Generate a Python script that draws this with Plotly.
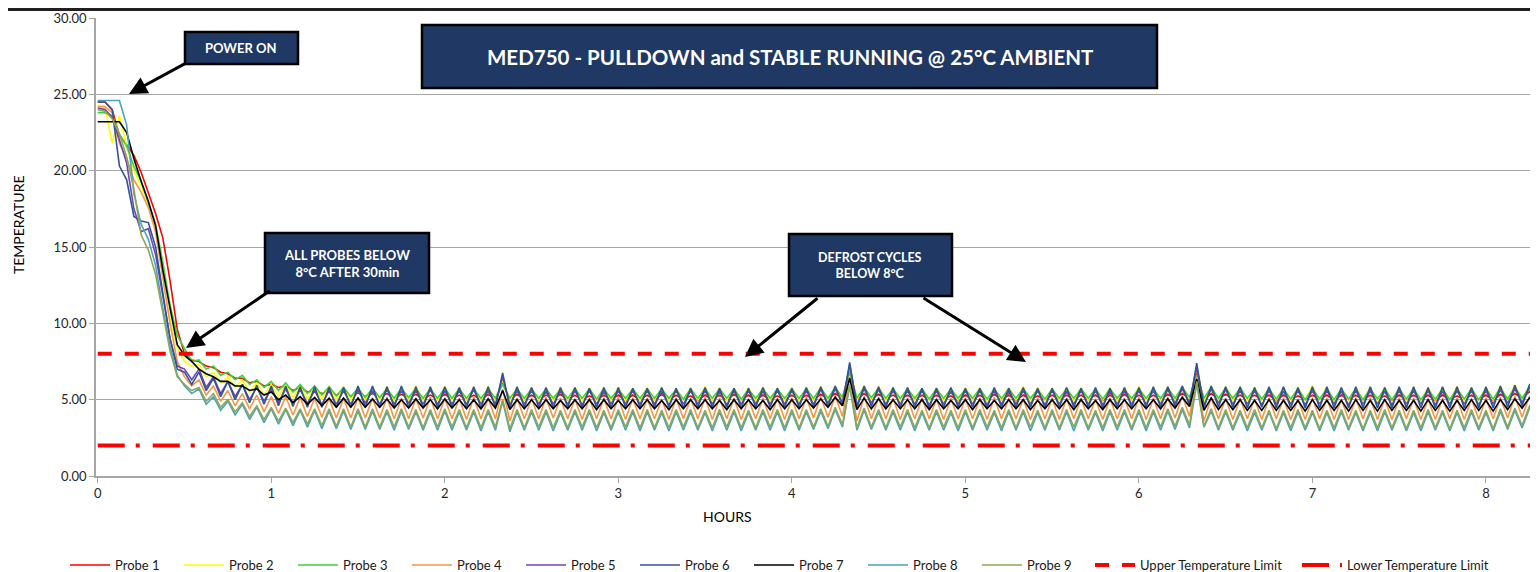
import plotly.graph_objects as go

# ---------------- data ----------------
SAMPLE_MINUTES = 2.5          # logging interval of the probes

PROBE_1 = [
    24.5, 24.5, 24.0, 22.3, 21.7, 21.0, 19.9, 18.5, 17.2, 15.6, 12.8, 9.6, 8.0,
    7.6, 7.5, 7.2, 7.1, 6.8, 6.7, 6.4, 6.4, 6.1, 6.2, 5.9, 6.0, 5.8, 5.9, 5.6, 5.8, 5.5, 5.6, 5.4, 5.5, 5.3, 5.5, 5.2,
    5.45, 5.2, 5.4, 5.15, 5.4, 5.1, 5.35, 5.1, 5.35, 5.05, 5.3, 5.05, 5.35, 5.05, 5.3, 5.0, 5.3, 5.0, 5.35, 5.05,
    6.1, 5.0, 5.35, 5.0, 5.3, 5.0, 5.3, 5.05, 5.35, 5.0, 5.3, 5.0, 5.25, 5.0, 5.3, 5.0, 5.3, 4.95, 5.3, 5.0,
    5.3, 5.0, 5.35, 5.0, 5.3, 5.0, 5.25, 4.95, 5.3, 5.0, 5.3, 5.0, 5.35, 5.0, 5.3, 4.95, 5.3, 5.0, 5.25, 5.0,
    5.3, 5.0, 5.3, 5.0, 5.35, 5.05, 5.4, 5.1, 6.9, 5.0, 5.4, 5.05, 5.35, 5.05, 5.3, 5.0, 5.3, 5.0, 5.3, 5.0,
    5.3, 5.0, 5.25, 4.95, 5.3, 5.0, 5.3, 5.0, 5.35, 5.0, 5.3, 4.95, 5.3, 5.0, 5.25, 5.0, 5.3, 5.0, 5.3, 5.0,
    5.3, 5.0, 5.3, 4.95, 5.3, 5.0, 5.35, 5.0, 5.3, 5.0, 5.3, 5.0, 5.35, 5.05, 5.4, 5.1, 6.75, 5.0, 5.4, 5.05,
    5.35, 5.05, 5.3, 5.0, 5.3, 5.0, 5.3, 4.95, 5.3, 5.0, 5.25, 5.0, 5.3, 5.0, 5.3, 4.95, 5.3, 5.0, 5.3, 5.0,
    5.3, 5.0, 5.25, 4.95, 5.3, 5.0, 5.3, 5.0, 5.3, 4.95, 5.3, 5.0, 5.25, 5.0, 5.3, 5.0, 5.3, 4.95, 5.35, 5.05,
    5.4, 5.1, 5.5, 6.1,
]
PROBE_2 = [
    24.3, 24.2, 21.8, 23.6, 21.6, 20.0, 19.0, 17.8, 16.2, 13.0, 10.3, 8.4, 7.5,
    7.2, 7.3, 6.5, 6.8, 6.1, 6.5, 5.8, 6.3, 5.5, 6.1, 5.3, 6.0, 5.2, 6.0, 5.1, 5.9, 5.0, 5.9, 5.0, 5.9, 4.95, 5.85, 4.95,
    5.85, 4.95, 5.8, 4.95, 5.85, 4.9, 5.8, 4.95, 5.9, 4.95, 5.8, 4.9, 5.85, 4.95, 5.8, 4.95, 5.8, 4.9, 5.85, 4.95,
    6.3, 4.9, 5.8, 4.95, 5.8, 4.9, 5.75, 4.95, 5.8, 4.95, 5.8, 4.9, 5.75, 4.95, 5.8, 4.95, 5.8, 4.9, 5.75, 4.95,
    5.8, 4.95, 5.8, 4.9, 5.75, 4.95, 5.8, 4.95, 5.85, 4.9, 5.8, 4.95, 5.75, 4.95, 5.8, 4.9, 5.8, 4.95, 5.75, 4.95,
    5.8, 4.9, 5.8, 4.95, 5.85, 4.95, 5.9, 5.0, 7.15, 4.95, 5.9, 4.95, 5.85, 4.95, 5.8, 4.9, 5.8, 4.95, 5.75, 4.95,
    5.8, 4.9, 5.75, 4.95, 5.8, 4.95, 5.8, 4.9, 5.75, 4.95, 5.8, 4.95, 5.85, 4.9, 5.8, 4.95, 5.75, 4.95, 5.8, 4.9,
    5.8, 4.95, 5.75, 4.95, 5.8, 4.9, 5.8, 4.95, 5.85, 4.95, 5.8, 4.9, 5.85, 4.95, 5.9, 5.0, 7.05, 4.9, 5.9, 4.95,
    5.85, 4.95, 5.8, 4.9, 5.8, 4.95, 5.75, 4.95, 5.8, 4.9, 5.8, 4.95, 5.9, 4.95, 5.8, 4.9, 5.75, 4.95, 5.8, 4.95,
    5.8, 4.9, 5.8, 4.95, 5.75, 4.95, 5.8, 4.9, 5.8, 4.95, 5.8, 4.95, 5.85, 4.9, 5.8, 4.95, 5.8, 4.95, 5.9, 4.95,
    5.95, 5.0, 5.9, 6.2,
]
PROBE_3 = [
    23.8, 23.8, 23.6, 22.4, 21.6, 20.3, 19.3, 17.9, 16.5, 14.0, 11.2, 9.2, 8.3,
    7.5, 7.6, 7.0, 7.2, 6.6, 6.8, 6.3, 6.6, 6.0, 6.3, 5.8, 6.2, 5.6, 6.1, 5.5, 6.0, 5.4, 5.9, 5.3, 5.85, 5.25, 5.8, 5.2,
    5.75, 5.15, 5.75, 5.15, 5.7, 5.1, 5.75, 5.15, 5.7, 5.1, 5.7, 5.1, 5.75, 5.1, 5.7, 5.1, 5.7, 5.1, 5.7, 5.1,
    6.0, 5.1, 5.7, 5.1, 5.7, 5.1, 5.7, 5.1, 5.65, 5.1, 5.7, 5.1, 5.7, 5.05, 5.7, 5.1, 5.65, 5.1, 5.7, 5.1,
    5.7, 5.1, 5.7, 5.1, 5.65, 5.05, 5.7, 5.1, 5.7, 5.1, 5.7, 5.1, 5.7, 5.05, 5.65, 5.1, 5.7, 5.1, 5.7, 5.1,
    5.7, 5.1, 5.7, 5.1, 5.75, 5.1, 5.8, 5.15, 6.8, 5.1, 5.8, 5.15, 5.75, 5.1, 5.7, 5.1, 5.7, 5.1, 5.7, 5.05,
    5.7, 5.1, 5.7, 5.1, 5.65, 5.1, 5.7, 5.05, 5.7, 5.1, 5.7, 5.1, 5.7, 5.1, 5.65, 5.05, 5.7, 5.1, 5.7, 5.1,
    5.7, 5.1, 5.7, 5.05, 5.7, 5.1, 5.65, 5.1, 5.7, 5.1, 5.7, 5.1, 5.75, 5.1, 5.8, 5.15, 6.6, 5.1, 5.8, 5.1,
    5.75, 5.1, 5.75, 5.1, 5.7, 5.05, 5.7, 5.05, 5.7, 5.05, 5.7, 5.0, 5.7, 5.05, 5.7, 5.0, 5.7, 5.05, 5.7, 5.0,
    5.7, 5.05, 5.7, 5.0, 5.7, 5.05, 5.7, 5.0, 5.65, 5.05, 5.7, 5.0, 5.7, 5.05, 5.7, 5.0, 5.7, 5.05, 5.75, 5.05,
    5.8, 5.1, 5.8, 6.0,
]
PROBE_4 = [
    24.2, 24.2, 23.8, 21.8, 20.8, 19.4, 18.6, 17.6, 16.0, 13.0, 10.0, 7.5, 6.5,
    5.9, 6.3, 5.3, 5.9, 4.9, 5.6, 4.6, 5.4, 4.4, 5.3, 4.2, 5.2, 4.1, 5.2, 4.0, 5.15, 3.9, 5.1, 3.85, 5.1, 3.8, 5.1, 3.8,
    5.15, 3.8, 5.1, 3.8, 5.15, 3.75, 5.1, 3.75, 5.1, 3.8, 5.15, 3.75, 5.1, 3.75, 5.1, 3.7, 5.15, 3.75, 5.1, 3.75,
    5.7, 3.6, 5.1, 3.75, 5.1, 3.75, 5.15, 3.8, 5.1, 3.75, 5.05, 3.7, 5.1, 3.75, 5.1, 3.75, 5.15, 3.7, 5.1, 3.75,
    5.1, 3.75, 5.05, 3.7, 5.1, 3.75, 5.1, 3.75, 5.15, 3.7, 5.1, 3.75, 5.1, 3.7, 5.05, 3.75, 5.1, 3.75, 5.1, 3.7,
    5.1, 3.75, 5.15, 3.8, 5.2, 3.85, 5.25, 3.9, 6.5, 3.6, 5.2, 3.75, 5.15, 3.75, 5.1, 3.7, 5.1, 3.75, 5.1, 3.75,
    5.05, 3.7, 5.1, 3.75, 5.1, 3.75, 5.1, 3.7, 5.15, 3.75, 5.1, 3.75, 5.05, 3.7, 5.1, 3.75, 5.1, 3.7, 5.1, 3.75,
    5.1, 3.75, 5.05, 3.7, 5.1, 3.75, 5.1, 3.75, 5.15, 3.7, 5.1, 3.75, 5.15, 3.8, 5.25, 3.9, 6.5, 3.6, 5.15, 3.75,
    5.1, 3.7, 5.1, 3.75, 5.05, 3.7, 5.1, 3.75, 5.1, 3.7, 5.05, 3.7, 5.1, 3.75, 5.1, 3.7, 5.05, 3.7, 5.1, 3.75,
    5.1, 3.7, 5.05, 3.7, 5.1, 3.75, 5.1, 3.7, 5.05, 3.7, 5.1, 3.75, 5.1, 3.7, 5.05, 3.7, 5.1, 3.75, 5.15, 3.8,
    5.2, 3.85, 5.2, 5.6,
]
PROBE_5 = [
    24.1, 24.0, 23.5, 22.0, 20.5, 17.5, 16.0, 16.2, 14.5, 11.8, 9.0, 7.2, 7.0,
    6.3, 7.0, 5.8, 6.5, 5.4, 6.2, 5.2, 6.0, 5.0, 5.8, 4.9, 5.7, 4.8, 5.7, 4.75, 5.65, 4.75, 5.6, 4.7, 5.6, 4.7, 5.6, 4.7,
    5.65, 4.75, 5.6, 4.7, 5.65, 4.7, 5.6, 4.75, 5.6, 4.7, 5.65, 4.7, 5.6, 4.7, 5.6, 4.7, 5.65, 4.7, 5.6, 4.7,
    6.5, 4.65, 5.6, 4.7, 5.6, 4.7, 5.55, 4.7, 5.6, 4.7, 5.6, 4.65, 5.6, 4.7, 5.55, 4.7, 5.6, 4.7, 5.6, 4.7,
    5.6, 4.7, 5.55, 4.65, 5.6, 4.7, 5.6, 4.7, 5.6, 4.7, 5.55, 4.65, 5.6, 4.7, 5.6, 4.7, 5.55, 4.7, 5.6, 4.7,
    5.6, 4.7, 5.6, 4.7, 5.65, 4.75, 5.7, 4.8, 7.3, 4.65, 5.7, 4.75, 5.65, 4.7, 5.6, 4.7, 5.6, 4.7, 5.6, 4.65,
    5.6, 4.7, 5.55, 4.7, 5.6, 4.7, 5.6, 4.65, 5.6, 4.7, 5.55, 4.7, 5.6, 4.7, 5.6, 4.65, 5.6, 4.7, 5.55, 4.7,
    5.6, 4.7, 5.6, 4.65, 5.55, 4.7, 5.6, 4.7, 5.6, 4.7, 5.6, 4.7, 5.65, 4.75, 5.7, 4.8, 7.1, 4.65, 5.7, 4.75,
    5.65, 4.7, 5.6, 4.7, 5.6, 4.65, 5.6, 4.7, 5.55, 4.7, 5.6, 4.65, 5.6, 4.7, 5.6, 4.7, 5.55, 4.65, 5.6, 4.7,
    5.6, 4.7, 5.55, 4.65, 5.6, 4.7, 5.6, 4.7, 5.6, 4.65, 5.55, 4.7, 5.6, 4.7, 5.6, 4.65, 5.6, 4.7, 5.65, 4.75,
    5.7, 4.8, 5.75, 6.2,
]
PROBE_6 = [
    24.5, 24.5, 24.0, 20.3, 19.4, 17.0, 16.7, 16.6, 15.0, 12.0, 9.0, 7.0, 6.8,
    6.0, 6.8, 5.6, 6.4, 5.2, 6.2, 5.0, 6.0, 4.8, 5.95, 4.7, 5.9, 4.6, 5.9, 4.55, 5.85, 4.5, 5.85, 4.5, 5.8, 4.5, 5.8, 4.5,
    5.9, 4.5, 5.9, 4.5, 5.85, 4.5, 5.9, 4.5, 5.85, 4.45, 5.85, 4.5, 5.85, 4.5, 5.8, 4.5, 5.85, 4.45, 5.85, 4.5,
    6.75, 4.45, 5.85, 4.5, 5.8, 4.5, 5.8, 4.45, 5.8, 4.5, 5.8, 4.5, 5.75, 4.5, 5.8, 4.45, 5.8, 4.5, 5.75, 4.5,
    5.75, 4.5, 5.8, 4.5, 5.75, 4.45, 5.75, 4.5, 5.8, 4.5, 5.75, 4.5, 5.75, 4.45, 5.75, 4.5, 5.8, 4.5, 5.75, 4.5,
    5.75, 4.5, 5.8, 4.5, 5.85, 4.55, 5.9, 4.6, 7.45, 4.45, 5.9, 4.55, 5.85, 4.5, 5.8, 4.5, 5.8, 4.5, 5.75, 4.45,
    5.75, 4.5, 5.8, 4.5, 5.75, 4.5, 5.75, 4.45, 5.8, 4.5, 5.75, 4.5, 5.8, 4.5, 5.75, 4.45, 5.75, 4.5, 5.8, 4.5,
    5.75, 4.5, 5.8, 4.45, 5.75, 4.5, 5.8, 4.5, 5.8, 4.5, 5.85, 4.5, 5.85, 4.55, 5.9, 4.6, 7.4, 4.45, 5.9, 4.5,
    5.85, 4.5, 5.85, 4.45, 5.8, 4.5, 5.85, 4.45, 5.85, 4.45, 5.8, 4.45, 5.85, 4.45, 5.85, 4.45, 5.8, 4.45, 5.85, 4.45,
    5.85, 4.45, 5.8, 4.45, 5.85, 4.45, 5.85, 4.45, 5.8, 4.45, 5.85, 4.45, 5.85, 4.45, 5.8, 4.45, 5.85, 4.45, 5.9, 4.5,
    5.95, 4.6, 5.95, 6.45,
]
PROBE_7 = [
    23.2, 23.2, 23.2, 23.2, 22.5, 20.8, 19.3, 18.0, 16.4, 13.5, 11.0, 8.6, 7.9,
    7.5, 7.0, 6.7, 6.5, 6.2, 6.2, 5.9, 5.9, 5.6, 5.7, 5.3, 5.5, 5.0, 5.3, 4.8, 5.2, 4.7, 5.15, 4.6, 5.1, 4.5, 5.1, 4.5,
    5.1, 4.5, 5.05, 4.5, 5.05, 4.45, 5.0, 4.45, 5.05, 4.45, 5.0, 4.4, 5.05, 4.45, 5.0, 4.4, 5.0, 4.4, 5.05, 4.45,
    5.6, 4.35, 5.0, 4.4, 5.0, 4.4, 5.0, 4.4, 4.95, 4.4, 5.0, 4.4, 5.0, 4.35, 5.0, 4.4, 4.95, 4.4, 5.0, 4.4,
    5.0, 4.4, 4.95, 4.35, 5.0, 4.4, 5.0, 4.4, 5.0, 4.4, 4.95, 4.35, 5.0, 4.4, 5.0, 4.4, 4.95, 4.35, 5.0, 4.4,
    5.0, 4.4, 5.0, 4.45, 5.05, 4.5, 5.15, 4.6, 6.4, 4.35, 5.1, 4.4, 5.05, 4.4, 5.0, 4.4, 5.0, 4.4, 5.0, 4.35,
    5.0, 4.4, 4.95, 4.4, 5.0, 4.35, 5.0, 4.4, 4.95, 4.4, 5.0, 4.4, 5.0, 4.35, 4.95, 4.4, 5.0, 4.4, 5.0, 4.35,
    5.0, 4.4, 4.95, 4.35, 5.0, 4.4, 5.0, 4.4, 5.0, 4.4, 5.0, 4.4, 5.05, 4.45, 5.15, 4.55, 6.35, 4.3, 5.1, 4.35,
    5.0, 4.35, 5.0, 4.3, 4.95, 4.3, 5.0, 4.3, 4.95, 4.3, 4.95, 4.25, 5.0, 4.3, 4.95, 4.3, 4.95, 4.25, 5.0, 4.3,
    4.95, 4.25, 5.0, 4.3, 4.95, 4.3, 4.95, 4.25, 5.0, 4.3, 4.95, 4.25, 4.95, 4.3, 5.0, 4.3, 4.95, 4.25, 5.0, 4.35,
    5.05, 4.45, 5.1, 5.4,
]
PROBE_8 = [
    24.6, 24.6, 24.6, 24.6, 23.0, 18.5, 16.5, 15.5, 13.8, 11.0, 8.5, 6.6, 5.9,
    5.4, 5.7, 4.7, 5.2, 4.3, 4.9, 4.0, 4.7, 3.7, 4.5, 3.5, 4.4, 3.4, 4.35, 3.3, 4.3, 3.2, 4.3, 3.1, 4.25, 3.1, 4.25, 3.05,
    4.25, 3.05, 4.25, 3.05, 4.2, 3.0, 4.25, 3.05, 4.2, 3.0, 4.2, 3.0, 4.25, 3.0, 4.2, 3.0, 4.2, 2.95, 4.2, 3.0,
    4.9, 2.9, 4.2, 3.0, 4.2, 3.0, 4.2, 2.95, 4.15, 3.0, 4.2, 3.0, 4.2, 2.95, 4.15, 3.0, 4.2, 3.0, 4.2, 2.95,
    4.2, 3.0, 4.15, 2.95, 4.2, 3.0, 4.2, 3.0, 4.15, 2.95, 4.2, 3.0, 4.2, 2.95, 4.15, 3.0, 4.2, 3.0, 4.2, 2.95,
    4.2, 3.0, 4.2, 3.05, 4.25, 3.1, 4.35, 3.2, 5.9, 3.0, 4.3, 3.05, 4.2, 3.0, 4.2, 3.0, 4.2, 2.95, 4.15, 3.0,
    4.2, 3.0, 4.15, 2.95, 4.2, 3.0, 4.2, 3.0, 4.15, 2.95, 4.2, 3.0, 4.2, 2.95, 4.15, 3.0, 4.2, 3.0, 4.2, 2.95,
    4.2, 3.0, 4.15, 2.95, 4.2, 3.0, 4.2, 3.0, 4.2, 2.95, 4.2, 3.0, 4.25, 3.05, 4.35, 3.15, 6.05, 3.2, 4.25, 3.0,
    4.2, 3.0, 4.15, 2.95, 4.15, 3.0, 4.2, 2.95, 4.15, 2.95, 4.2, 3.0, 4.15, 2.95, 4.15, 2.95, 4.2, 3.0, 4.15, 2.95,
    4.15, 2.95, 4.2, 3.0, 4.15, 2.95, 4.15, 2.95, 4.2, 3.0, 4.15, 2.95, 4.15, 2.95, 4.2, 3.0, 4.15, 2.95, 4.25, 3.05,
    4.3, 3.15, 4.4, 5.2,
]
PROBE_9 = [
    24.0, 23.9, 23.4, 22.4, 20.9, 18.8, 15.8, 14.8, 13.2, 10.8, 8.2, 6.5, 6.0,
    5.6, 5.8, 4.9, 5.4, 4.5, 5.0, 4.2, 4.8, 3.9, 4.6, 3.7, 4.5, 3.6, 4.45, 3.5, 4.4, 3.4, 4.4, 3.3, 4.4, 3.25, 4.4, 3.2,
    4.4, 3.2, 4.4, 3.2, 4.35, 3.2, 4.4, 3.2, 4.35, 3.15, 4.35, 3.2, 4.4, 3.2, 4.35, 3.15, 4.35, 3.15, 4.35, 3.2,
    5.0, 3.1, 4.35, 3.15, 4.35, 3.2, 4.35, 3.15, 4.3, 3.15, 4.35, 3.2, 4.35, 3.15, 4.3, 3.15, 4.35, 3.2, 4.35, 3.15,
    4.35, 3.15, 4.3, 3.15, 4.35, 3.2, 4.35, 3.15, 4.3, 3.15, 4.35, 3.2, 4.35, 3.15, 4.3, 3.15, 4.35, 3.2, 4.35, 3.15,
    4.35, 3.15, 4.35, 3.2, 4.4, 3.25, 4.5, 3.35, 6.0, 3.15, 4.45, 3.2, 4.35, 3.15, 4.35, 3.2, 4.35, 3.15, 4.3, 3.15,
    4.35, 3.2, 4.3, 3.15, 4.35, 3.15, 4.35, 3.2, 4.3, 3.15, 4.35, 3.15, 4.35, 3.2, 4.3, 3.15, 4.35, 3.15, 4.35, 3.2,
    4.35, 3.15, 4.3, 3.15, 4.35, 3.2, 4.35, 3.15, 4.35, 3.15, 4.35, 3.2, 4.4, 3.25, 4.5, 3.35, 6.2, 3.25, 4.4, 3.15,
    4.35, 3.15, 4.3, 3.15, 4.35, 3.15, 4.3, 3.1, 4.3, 3.15, 4.35, 3.15, 4.3, 3.1, 4.3, 3.15, 4.35, 3.15, 4.3, 3.1,
    4.3, 3.15, 4.35, 3.15, 4.3, 3.1, 4.3, 3.15, 4.35, 3.15, 4.3, 3.1, 4.3, 3.15, 4.35, 3.15, 4.3, 3.1, 4.4, 3.2,
    4.45, 3.3, 4.55, 5.3,
]

PROBE_NAMES = ["Probe 1", "Probe 2", "Probe 3", "Probe 4", "Probe 5",
               "Probe 6", "Probe 7", "Probe 8", "Probe 9"]
PROBE_VALUES = [PROBE_1, PROBE_2, PROBE_3, PROBE_4, PROBE_5,
                PROBE_6, PROBE_7, PROBE_8, PROBE_9]
PROBE_COLORS = ["#ff0000", "#ffff00", "#3cd33c", "#f79646", "#7244b4",
                "#2f5597", "#000000", "#4aa3c0", "#8ea756"]

UPPER_LIMIT = 8.0
LOWER_LIMIT = 2.0
Y_TICKS = [0, 5, 10, 15, 20, 25, 30]
X_TICKS = [0, 1, 2, 3, 4, 5, 6, 7, 8]

TITLE = "MED750 - PULLDOWN and STABLE RUNNING @ 25°C AMBIENT"

# ---------------- geometry helpers ----------------
# the page body has an 8px margin, so the figure is drawn 8px in from the window corner
OFF = 8
PAGE_W, PAGE_H = 1538, 572
W, H = PAGE_W - OFF, PAGE_H - OFF
# plot area in page pixels
PL, PT, PR, PB = 96, 18, 1538, 476
PW, PH = PR - PL, PB - PT
XR = [-0.01, 8.30]
YR = [0, 30]


def pxx(px):          # page pixel -> paper x
    return (px - PL) / PW


def pxy(py):          # page pixel -> paper y
    return (PB - py) / PH


def dx(px):           # page pixel -> data x
    return XR[0] + (px - PL) / PW * (XR[1] - XR[0])


def dy(py):           # page pixel -> data y
    return YR[0] + (PB - py) / PH * (YR[1] - YR[0])


n = max(len(v) for v in PROBE_VALUES)
hours = [i * SAMPLE_MINUTES / 60.0 for i in range(n)]

fig = go.Figure()
for name, vals, col in zip(PROBE_NAMES, PROBE_VALUES, PROBE_COLORS):
    fig.add_trace(go.Scatter(x=hours[:len(vals)], y=vals, name=name, mode="lines",
                             line=dict(color=col, width=1.6), legend="legend"))

fig.add_trace(go.Scatter(x=[hours[0], hours[-1]], y=[UPPER_LIMIT, UPPER_LIMIT],
                         name="Upper Temperature Limit", mode="lines",
                         line=dict(color="#ff0000", width=4, dash="14px,13px"),
                         legend="legend2"))
fig.add_trace(go.Scatter(x=[hours[0], hours[-1]], y=[LOWER_LIMIT, LOWER_LIMIT],
                         name="Lower Temperature Limit", mode="lines",
                         line=dict(color="#ff0000", width=4, dash="27px,11px,4px,13px"),
                         legend="legend2"))

FONT = "Lato"
GRID = "#a6a6a6"

shapes = [
    # dark band at the very top
    dict(type="rect", xref="paper", yref="paper", x0=pxx(0), x1=pxx(PAGE_W + 10), y0=pxy(11), y1=pxy(0),
         fillcolor="#231f20", line=dict(width=0), layer="above"),
]
boxes = [
    # (x0, y0, x1, y1) in page pixels
    (185, 32, 298, 64),
    (422, 25, 1157, 88),
    (265, 233, 429, 293),
    (789, 234, 952, 296),
]
for x0, y0, x1, y1 in boxes:
    shapes.append(dict(type="rect", xref="paper", yref="paper",
                       x0=pxx(x0), x1=pxx(x1), y0=pxy(y1), y1=pxy(y0),
                       fillcolor="#1f3864", line=dict(color="#000000", width=2.5),
                       layer="above"))

annotations = []
box_texts = [
    ("POWER ON", 241, 48, 13),
    (TITLE, 790, 57, 20.5),
    ("ALL PROBES BELOW<br>8°C AFTER 30min", 347, 263, 13),
    ("DEFROST CYCLES<br>BELOW 8°C", 870, 265, 12.5),
]
for txt, cx, cy, fs in box_texts:
    annotations.append(dict(text=f"<b>{txt}</b>", xref="paper", yref="paper",
                            x=pxx(cx), y=pxy(cy), xanchor="center", yanchor="middle",
                            showarrow=False, align="center",
                            font=dict(family=FONT, size=fs, color="#ffffff")))

arrows = [
    # (tail px, tail py, tip px, tip py) in page pixels
    (186, 63, 129, 94),
    (271, 290, 186, 348),
    (819, 297, 745, 357),
    (922, 297, 1026, 362),
]
for tx, ty, hx, hy in arrows:
    annotations.append(dict(text="", x=dx(hx), y=dy(hy), xref="x", yref="y",
                            ax=dx(tx), ay=dy(ty), axref="x", ayref="y",
                            showarrow=True, arrowhead=2, arrowsize=1.2, arrowwidth=3,
                            arrowcolor="#000000", standoff=0, startstandoff=0))

annotations.append(dict(text="TEMPERATURE", xref="paper", yref="paper", x=pxx(18), y=pxy(225),
                        textangle=-90, showarrow=False, xanchor="center", yanchor="middle",
                        font=dict(family=FONT, size=14, color="#000000")))
annotations.append(dict(text="HOURS", xref="paper", yref="paper", x=pxx(727), y=pxy(516),
                        showarrow=False, xanchor="center", yanchor="middle",
                        font=dict(family=FONT, size=14, color="#000000")))

fig.update_layout(
    width=W, height=H,
    margin=dict(l=PL - OFF, r=(PAGE_W - OFF) - (PR - OFF), t=PT - OFF, b=(PAGE_H - OFF) - (PB - OFF),
                pad=0, autoexpand=False),
    paper_bgcolor="#ffffff", plot_bgcolor="#ffffff",
    font=dict(family=FONT, size=13, color="#262626"),
    shapes=shapes, annotations=annotations,
    legend=dict(orientation="h", x=pxx(65), y=pxy(565), xanchor="left", yanchor="middle",
                entrywidthmode="pixels", entrywidth=59, itemwidth=40,
                font=dict(family=FONT, size=13, color="#1a1a1a"), bgcolor="rgba(0,0,0,0)"),
    legend2=dict(orientation="h", x=pxx(1090), y=pxy(565), xanchor="left", yanchor="middle",
                 entrywidthmode="pixels", entrywidth=152, itemwidth=40,
                 font=dict(family=FONT, size=13, color="#1a1a1a"), bgcolor="rgba(0,0,0,0)"),
    xaxis=dict(range=XR, tickmode="array", tickvals=X_TICKS, ticktext=[str(t) for t in X_TICKS],
               showgrid=False, zeroline=False, showline=True, linecolor=GRID, linewidth=1.5,
               ticks="outside", ticklen=5, tickcolor=GRID,
               tickfont=dict(family=FONT, size=13, color="#262626")),
    yaxis=dict(range=YR, tickmode="array", tickvals=Y_TICKS, tickformat=".2f",
               showgrid=True, gridcolor=GRID, gridwidth=1.3, zeroline=False,
               showline=True, linecolor=GRID, linewidth=1.5,
               ticks="outside", ticklen=5, tickcolor=GRID,
               tickfont=dict(family=FONT, size=13, color="#262626")),
    showlegend=True,
)

fig.write_html("out.html")
